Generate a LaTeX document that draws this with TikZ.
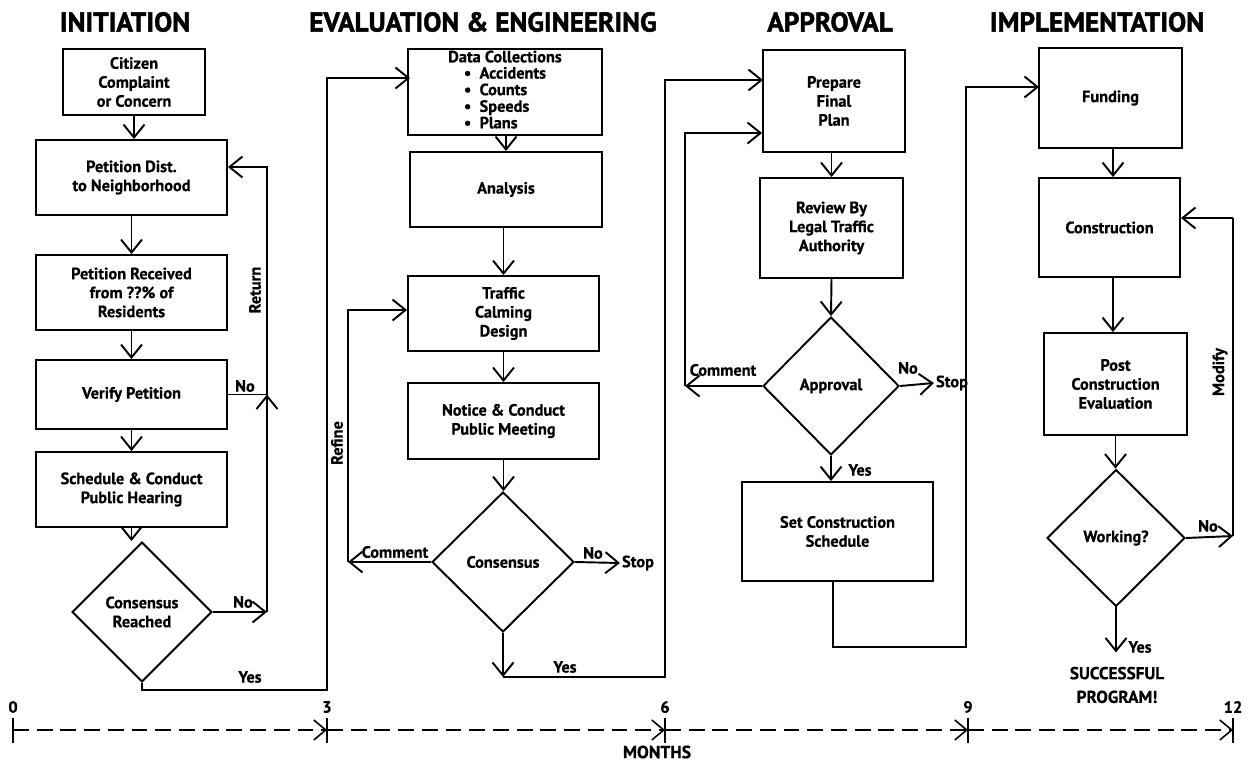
\documentclass[tikz,border=0pt]{standalone}
\usepackage{fontspec}
\setmainfont{PT Sans}[BoldFeatures={FakeBold=0.6}]
\newfontfamily\fontetitulo{PT Sans Bold}[FakeBold=1.6]
\usetikzlibrary{shapes.geometric, arrows.meta}

\tikzset{
  caixa/.style 2 args={draw, line width=1.1pt, align=center, inner sep=1pt,
    minimum width=#1cm, minimum height=#2cm, font=\fontsize{9.3}{10.8}\selectfont\bfseries},
  losango/.style 2 args={diamond, draw, line width=1.1pt, align=center, inner sep=0pt,
    aspect=1, minimum width=#1cm, minimum height=#2cm, font=\fontsize{9.3}{10.8}\selectfont\bfseries},
  rotulo/.style={inner sep=1pt, font=\fontsize{9.3}{10.8}\selectfont\bfseries},
  titulo/.style={inner sep=0pt, font=\fontetitulo\fontsize{15.5}{18}\selectfont},
  seta/.style={line width=1.1pt, -{Straight Barb[length=2.6mm,width=4.2mm]}},
  linha/.style={line width=1.1pt},
  eixo/.style={line width=0.9pt, dash pattern=on 9pt off 4.5pt, -{Straight Barb[length=2.4mm,width=4mm]}}
}

\begin{document}
\begin{tikzpicture}[x=0.02cm, y=-0.02cm]
    \useasboundingbox (0,0) rectangle (1254,764);

    % Titulos
    \node[titulo] (t1) at (125,22) {INITIATION};
    \node[titulo] (t2) at (483,22) {EVALUATION \& ENGINEERING};
    \node[titulo] (t3) at (830,22) {APPROVAL};
    \node[titulo] (t4) at (1097,22) {IMPLEMENTATION};

    % Primeira coluna
    \node[caixa={2.84}{1.32}] (cit) at (134,82) {Citizen\\Complaint\\or Concern};
    \node[caixa={3.82}{1.5}] (pet) at (131.5,177.5) {Petition Dist.\\to Neighborhood};
    \node[caixa={3.82}{1.5}] (rec) at (131.5,292.5) {Petition Received\\from ??\% of\\Residents};
    \node[caixa={3.82}{1.38}] (ver) at (131.5,394.5) {Verify Petition};
    \node[caixa={3.82}{1.5}] (sch) at (131.5,489.5) {Schedule \& Conduct\\Public Hearing};
    \node[losango={2.8}{2.8}] (cr) at (142,612) {Consensus\\Reached};

    \draw[seta] (cit.south) -- (cit.south |- pet.north);
    \draw[seta] (pet.south) -- (rec.north);
    \draw[seta] (rec.south) -- (ver.north);
    \draw[seta] (ver.south) -- (sch.north);
    \draw[seta] (sch.south) -- (sch.south |- cr.north);

    \coordinate (r1) at (267,612);
    \coordinate (r2) at (267,394.5);
    \coordinate (r3) at (267,167);
    \draw[seta] (cr.east) -- (r1);
    \draw[seta] (r1) -- (r2);
    \draw[linha] (ver.east) -- (r2);
    \draw[seta] (r2) -- (r3) -- (pet.east |- r3);
    \node[rotulo] (no1) at (245,386) {No};
    \node[rotulo] (no2) at (243,602) {No};
    \node[rotulo, rotate=90] (ret) at (255,290) {Return};

    \coordinate (y1) at (327,690);
    \coordinate (y2) at (327,78);
    \draw[seta] (cr.south) |- (y1) -- (y2) -- (410,78);
    \node[rotulo] (yes1) at (250,677) {Yes};

    % Segunda coluna
    \node[caixa={3.88}{1.72}, font=\fontsize{9.3}{9.4}\selectfont\bfseries] (dat) at (505,92)
      {Data Collections\\[1.5pt]\begin{tabular}{@{}l@{}}\textbullet\ \ Accidents\\\textbullet\ \ Counts\\\textbullet\ \ Speeds\\\textbullet\ \ Plans\end{tabular}};
    \node[caixa={3.84}{1.5}] (ana) at (506,189.5) {Analysis};
    \node[caixa={3.82}{1.5}] (tcd) at (503.5,313.5) {Traffic\\Calming\\Design};
    \node[caixa={3.82}{1.52}] (ntc) at (503.5,421) {Notice \& Conduct\\Public Meeting};
    \node[losango={2.84}{2.8}] (con) at (503,562) {Consensus};

    \draw[seta] (dat.south -| ana.north) -- (ana.north);
    \draw[seta] (ana.south -| tcd.north) -- (tcd.north);
    \draw[seta] (tcd.south) -- (ntc.north);
    \draw[seta] (ntc.south) -- (ntc.south |- con.north);

    \coordinate (f1) at (348,562);
    \coordinate (f2) at (348,310);
    \draw[seta] (con.west) -- (f1);
    \draw[seta] (f1) -- (f2) -- (tcd.west |- f2);
    \node[rotulo] (com1) at (395,552) {Comment};
    \node[rotulo, rotate=90] (ref) at (337,443) {Refine};

    \node[rotulo] (st1) at (638,563) {Stop};
    \draw[seta] (con.east) -- (st1.west);
    \node[rotulo] (no3) at (593,553) {No};

    \coordinate (y3) at (503,677);
    \coordinate (y4) at (665,677);
    \coordinate (y5) at (665,80);
    \draw[seta] (con.south) -- (y3);
    \draw[seta] (y3) -- (y4) -- (y5) -- (763,80);
    \node[rotulo] (yes2) at (565,667) {Yes};

    % Terceira coluna
    \node[caixa={2.84}{2.04}] (ppl) at (834,101) {Prepare\\Final\\Plan};
    \node[caixa={2.86}{2.0}] (rev) at (831.5,228) {Review By\\Legal Traffic\\Authority};
    \node[losango={2.72}{2.76}] (apr) at (831,386) {Approval};
    \node[caixa={3.82}{1.98}] (scs) at (837.5,531.5) {Set Construction\\Schedule};

    \draw[seta] (ppl.south -| rev.north) -- (rev.north);
    \draw[seta] (rev.south) -- (apr.north);
    \draw[seta] (apr.south) -- (apr.south |- scs.north);
    \node[rotulo] (yes3) at (860,470) {Yes};

    \coordinate (c1) at (685,386);
    \coordinate (c2) at (685,133);
    \draw[seta] (apr.west) -- (c1);
    \draw[seta] (c1) -- (c2) -- (ppl.west |- c2);
    \node[rotulo] (com2) at (723,370) {Comment};

    \node[rotulo] (st2) at (952,383) {Stop};
    \draw[seta] (apr.east) -- (st2.west);
    \node[rotulo] (no4) at (908,368) {No};

    \coordinate (s1) at (833,647);
    \coordinate (s2) at (966,647);
    \coordinate (s3) at (966,87);
    \draw[seta] (scs.south -| s1) -- (s1) -- (s2) -- (s3) -- (1039,87);

    % Quarta coluna
    \node[caixa={2.86}{2.0}] (fun) at (1110.5,98) {Funding};
    \node[caixa={2.82}{1.98}] (cst) at (1109.5,227.5) {Construction};
    \node[caixa={2.86}{2.04}] (pce) at (1115.5,384) {Post\\Construction\\Evaluation};
    \node[losango={2.76}{2.74}] (wrk) at (1116,538) {Working?};

    \draw[seta] (1113,148) -- (cst.north -| 1113,0);
    \draw[seta] (1113,277) -- (pce.north -| 1113,0);
    \draw[seta] (pce.south) -- (pce.south |- wrk.north);

    \coordinate (w1) at (1233,536);
    \coordinate (w2) at (1233,218);
    \draw[seta] (wrk.east) -- (w1);
    \draw[linha] (w1) -- (w2);
    \draw[seta] (w2) -- (cst.east |- w2);
    \node[rotulo] (no5) at (1208,526) {No};
    \node[rotulo, rotate=90] (mod) at (1220,372) {Modify};

    \draw[seta] (wrk.south) -- ++(0,45);
    \node[rotulo] (yes4) at (1140,647) {Yes};
    \node[rotulo, align=center, font=\fontsize{9.8}{13.5}\selectfont\bfseries] (suc) at (1117,685) {SUCCESSFUL\\PROGRAM!};

    % Eixo dos meses
    \foreach \x/\m [count=\i from 0] in {13/0, 327/3, 665/6, 968/9, 1233/12} {
      \coordinate (a\i) at (\x,730);
      \draw[line width=1.1pt] (\x,718) -- (\x,743);
      \node[rotulo] (m\i) at (\x,707) {\m};
    }
    \foreach \i/\j in {0/1, 1/2, 2/3, 3/4}
      \draw[eixo] (a\i) -- (a\j);
    \node[rotulo, font=\fontsize{10}{12}\selectfont\bfseries] (mes) at (657,752) {MONTHS};
\end{tikzpicture}
\end{document}
